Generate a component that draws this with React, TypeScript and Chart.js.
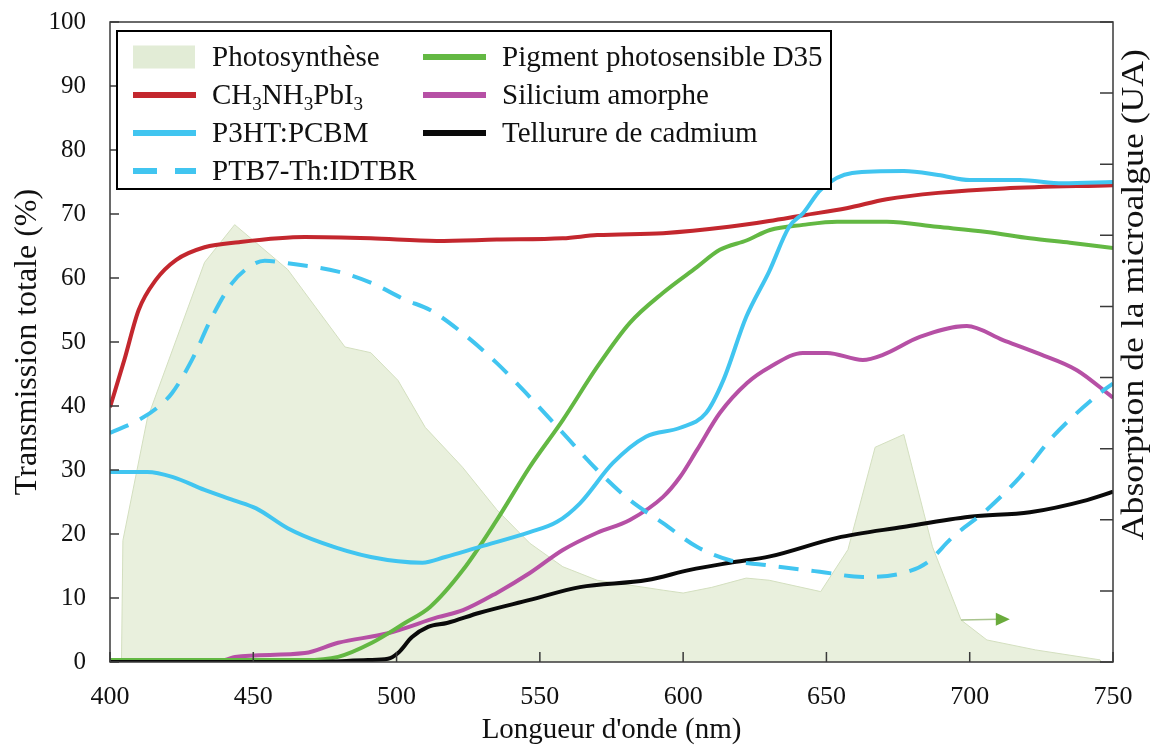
import React, { useEffect, useRef } from "react";
import { Chart, registerables } from "chart.js";

Chart.register(...registerables);

const FONT = "'Liberation Serif', 'Times New Roman', serif";

// ---------- data ----------
const wavelengthTicks = [400, 450, 500, 550, 600, 650, 700, 750];
const transmissionTicks = [0, 10, 20, 30, 40, 50, 60, 70, 80, 90, 100];
const absorptionTicks = [0, 1, 2, 3, 4, 5, 6, 7, 8, 9];

const xTitle = "Longueur d'onde (nm)";
const yTitle = "Transmission totale (%)";
const y2Title = "Absorption de la microalgue (UA)";

// microalgae absorption (arbitrary units, right axis)
const photosynthese: [number, number][] = [
  [404, 0], [404.5, 1.71], [413, 3.42], [433, 5.62], [443.5, 6.15], [462, 5.52],
  [482, 4.43], [491, 4.35], [500.5, 3.96], [510, 3.3], [523, 2.74], [535, 2.14],
  [546.5, 1.67], [558, 1.34], [570, 1.15], [593, 1.01], [600, 0.97], [610, 1.05],
  [622, 1.18], [630, 1.15], [648, 0.99], [657.5, 1.58], [667, 3.02], [677, 3.2],
  [687, 1.62], [697, 0.59], [706, 0.31], [723, 0.17], [745.5, 0.03], [746, 0],
];

const perovskite: [number, number][] = [
  [400, 39.8], [405, 47.2], [410, 55], [416, 59.7], [423, 62.8], [433, 64.8],
  [445, 65.6], [468, 66.4], [491, 66.2], [514, 65.8], [535, 66], [558, 66.2],
  [570, 66.7], [593, 67], [616, 68], [630, 68.9], [642, 69.8], [657, 70.9],
  [671, 72.3], [689, 73.3], [712, 74], [750, 74.5],
];

const p3ht: [number, number][] = [
  [400, 29.7], [413, 29.7], [422, 28.9], [433, 26.9], [443, 25.3], [451, 24],
  [462, 20.9], [474, 18.6], [491, 16.4], [509, 15.5], [517, 16.4], [529, 18],
  [546.5, 20.3], [556, 21.9], [564, 24.8], [575.5, 31.1], [587, 35.2], [599, 36.6],
  [608, 38.9], [614, 44], [622, 53.9], [630, 61], [637, 68], [642, 70.2],
  [648, 73.8], [659, 76.4], [677, 76.7], [689, 76.1], [700, 75.3], [717.5, 75.3],
  [732.5, 74.8], [750, 75],
];

const ptb7: [number, number][] = [
  [400, 35.8], [410, 37.8], [416.7, 39.8], [421.6, 42], [428.6, 47.2], [435.6, 53.9],
  [442.6, 59.2], [449.5, 62], [454, 62.7], [462, 62.3], [479.6, 61], [491.4, 59.2],
  [503, 56.6], [511.7, 55], [523, 51.4], [535, 46.7], [546.5, 41.4], [558, 35.8],
  [570, 30], [581.4, 25.3], [593, 21.7], [604.8, 18], [616.3, 15.9], [627.8, 15.2],
  [647.7, 14.1], [662.7, 13.3], [676.7, 13.9], [685, 15.5], [694, 19.5], [706, 23.8],
  [717.5, 28.9], [729, 35.2], [745.4, 42], [750, 43.5],
];

const d35: [number, number][] = [
  [400, 0.3], [468, 0.3], [479.6, 0.8], [491.4, 3], [502.9, 6.1], [511.7, 8.6],
  [523.2, 14.4], [535, 22.2], [546.5, 30.5], [558, 37.8], [570, 46.1], [581.4, 53],
  [593, 57.7], [604.8, 61.7], [612.8, 64.4], [622.3, 65.9], [630.3, 67.5], [641.8, 68.3],
  [653.7, 68.8], [671.1, 68.8], [688.6, 68], [706, 67.2], [721, 66.2], [735, 65.5],
  [750, 64.7],
];

const siliciumAmorphe: [number, number][] = [
  [400, 0.3], [440, 0.3], [443.6, 0.8], [468, 1.4], [479.6, 3], [497, 4.5],
  [514.4, 7], [523.2, 8.1], [535, 10.8], [546.5, 13.9], [558, 17.5], [570, 20.2],
  [581.4, 22.2], [593, 25.8], [598.9, 28.9], [604.8, 33.1], [612.8, 38.9], [622.3, 43.6],
  [630.3, 46.1], [641.8, 48.3], [650.2, 48.3], [662.7, 47.2], [669.7, 48], [682.6, 50.8],
  [699, 52.5], [711.6, 50.3], [723.4, 48.3], [737.4, 45.6], [750, 41.3],
];

const tellurureCadmium: [number, number][] = [
  [400, 0], [470, 0], [490, 0.3], [497, 0.5], [500.5, 1.4], [505.4, 3.9], [511, 5.5],
  [517.6, 6.1], [529, 7.7], [546.5, 9.7], [564, 11.7], [587.4, 12.8], [602.4, 14.4],
  [616.3, 15.5], [630.3, 16.5], [653.7, 19.4], [676.7, 21.1], [700, 22.7], [721, 23.4],
  [740.9, 25.3], [750, 26.6],
];

// arrow pointing to the right axis (x in nm, y in UA)
const arrowFrom: [number, number] = [697, 0.59];
const arrowTo: [number, number] = [714, 0.6];

// legend arrangement (dataset indices per column)
const legendColumns = [[0, 1, 2, 3], [4, 5, 6]];

// ---------- helpers ----------
const toXY = (pts: [number, number][]) => pts.map(([x, y]) => ({ x, y }));
const SUBS = "₀₁₂₃₄₅₆₇₈₉";

function drawRichText(ctx: CanvasRenderingContext2D, text: string, x: number, y: number, size: number) {
  const runs: { sub: boolean; s: string }[] = [];
  for (const ch of text) {
    const i = SUBS.indexOf(ch);
    const sub = i >= 0;
    const c = sub ? String(i) : ch;
    const last = runs[runs.length - 1];
    if (last && last.sub === sub) last.s += c;
    else runs.push({ sub, s: c });
  }
  let cx = x;
  for (const r of runs) {
    const fs = r.sub ? size * 0.66 : size;
    ctx.font = `${fs}px ${FONT}`;
    ctx.fillText(r.s, cx, r.sub ? y + size * 0.2 : y);
    cx += ctx.measureText(r.s).width;
  }
}

const framePlugin = {
  id: "frameTicks",
  afterDatasetsDraw(chart: any) {
    const { ctx, chartArea, scales } = chart;
    const { left, right, top, bottom } = chartArea;
    ctx.save();
    // arrow
    const ax1 = scales.x.getPixelForValue(arrowFrom[0]);
    const ay1 = scales.y2.getPixelForValue(arrowFrom[1]);
    const ax2 = scales.x.getPixelForValue(arrowTo[0]);
    const ay2 = scales.y2.getPixelForValue(arrowTo[1]);
    ctx.strokeStyle = "#a9c48e";
    ctx.lineWidth = 1.5;
    ctx.beginPath();
    ctx.moveTo(ax1, ay1);
    ctx.lineTo(ax2 - 12, ay2);
    ctx.stroke();
    ctx.fillStyle = "#6aab3c";
    ctx.beginPath();
    ctx.moveTo(ax2, ay2);
    ctx.lineTo(ax2 - 14, ay2 - 6.5);
    ctx.lineTo(ax2 - 14, ay2 + 6.5);
    ctx.closePath();
    ctx.fill();

    // frame
    ctx.strokeStyle = "#3a3a3a";
    ctx.lineWidth = 1.5;
    ctx.strokeRect(left, top, right - left, bottom - top);
    ctx.beginPath();
    for (const v of transmissionTicks) {
      const y = scales.y.getPixelForValue(v);
      ctx.moveTo(left, y);
      ctx.lineTo(left + 9, y);
    }
    for (const v of wavelengthTicks) {
      const x = scales.x.getPixelForValue(v);
      ctx.moveTo(x, bottom);
      ctx.lineTo(x, bottom - 10);
    }
    for (const v of absorptionTicks) {
      const y = scales.y2.getPixelForValue(v);
      ctx.moveTo(right, y);
      ctx.lineTo(right - 13, y);
    }
    ctx.stroke();
    ctx.restore();
  },
};

const legendPlugin = {
  id: "boxLegend",
  afterDraw(chart: any) {
    const { ctx, chartArea } = chart;
    const bx = chartArea.left + 7;
    const by = chartArea.top + 9;
    const bw = 714;
    const bh = 158;
    ctx.save();
    ctx.fillStyle = "#ffffff";
    ctx.fillRect(bx, by, bw, bh);
    ctx.strokeStyle = "#000";
    ctx.lineWidth = 2;
    ctx.strokeRect(bx, by, bw, bh);
    const colSwatchX = [bx + 16, bx + 306];
    const colTextX = [bx + 95, bx + 385];
    legendColumns.forEach((col, ci) => {
      col.forEach((di, ri) => {
        const ds = chart.data.datasets[di];
        const cy = by + 26 + ri * 38;
        const sx = colSwatchX[ci];
        if (ds.fill) {
          ctx.fillStyle = "#e2ecd6";
          ctx.fillRect(sx, cy - 11.5, 62, 23);
        } else {
          ctx.strokeStyle = ds.borderColor;
          ctx.lineWidth = 6;
          ctx.setLineDash(ds.borderDash && ds.borderDash.length ? [24, 18] : []);
          ctx.beginPath();
          ctx.moveTo(sx, cy);
          ctx.lineTo(sx + 63, cy);
          ctx.stroke();
          ctx.setLineDash([]);
        }
        ctx.fillStyle = "#111";
        ctx.textBaseline = "alphabetic";
        ctx.textAlign = "left";
        drawRichText(ctx, ds.label, colTextX[ci], cy + 9, 29);
      });
    });
    // right axis title, reading bottom to top
    const { right, top, bottom } = chartArea;
    ctx.translate(right + 22, top + 0.426 * (bottom - top));
    ctx.rotate(-Math.PI / 2);
    ctx.scale(1.15, 1);
    ctx.font = `31px ${FONT}`;
    ctx.textAlign = "center";
    ctx.textBaseline = "middle";
    ctx.fillStyle = "#111";
    ctx.fillText(y2Title, 0, 0);
    ctx.restore();
  },
};

export default function App() {
  const ref = useRef<HTMLCanvasElement>(null);

  useEffect(() => {
    if (!ref.current) return;
    const lineBase = {
      pointRadius: 0,
      borderWidth: 4,
      fill: false,
      cubicInterpolationMode: "monotone" as const,
      yAxisID: "y",
    };
    const chart = new Chart(ref.current, {
      type: "line",
      data: {
        datasets: [
          {
            label: "Photosynthèse",
            data: toXY(photosynthese),
            yAxisID: "y2",
            fill: "origin",
            backgroundColor: "#e9f0dd",
            borderColor: "#d3dfbf",
            borderWidth: 1,
            pointRadius: 0,
            tension: 0,
            order: 10,
          },
          { ...lineBase, label: "CH₃NH₃PbI₃", data: toXY(perovskite), borderColor: "#c3272e", order: 2 },
          { ...lineBase, label: "P3HT:PCBM", data: toXY(p3ht), borderColor: "#41c5f0", order: 1 },
          {
            ...lineBase,
            label: "PTB7-Th:IDTBR",
            data: toXY(ptb7),
            borderColor: "#41c5f0",
            borderDash: [20, 13],
            order: 3,
          },
          { ...lineBase, label: "Pigment photosensible D35", data: toXY(d35), borderColor: "#63b843", order: 5 },
          { ...lineBase, label: "Silicium amorphe", data: toXY(siliciumAmorphe), borderColor: "#b650a5", order: 6 },
          { ...lineBase, label: "Tellurure de cadmium", data: toXY(tellurureCadmium), borderColor: "#0a0a0a", order: 4 },
        ] as any,
      },
      options: {
        animation: false,
        responsive: true,
        maintainAspectRatio: false,
        layout: { padding: { top: 22, left: 0, right: 0, bottom: 0 } },
        plugins: { legend: { display: false }, tooltip: { enabled: false } },
        scales: {
          x: {
            type: "linear",
            min: 400,
            max: 750,
            afterFit: (s: any) => {
              s.height = 86;
              s.paddingLeft = 0;
              s.paddingRight = 0;
            },
            afterBuildTicks: (s: any) => {
              s.ticks = wavelengthTicks.map((v) => ({ value: v }));
            },
            grid: { display: false },
            border: { display: false },
            ticks: {
              autoSkip: false,
              maxRotation: 0,
              padding: 12,
              color: "#111",
              font: { family: FONT, size: 26 },
            },
            title: {
              display: true,
              text: xTitle,
              color: "#111",
              font: { family: FONT, size: 29 },
              padding: 0,
            },
          },
          y: {
            position: "left",
            min: 0,
            max: 100,
            afterFit: (s: any) => {
              s.width = 110;
              s.paddingTop = 0;
              s.paddingBottom = 0;
            },
            afterBuildTicks: (s: any) => {
              s.ticks = transmissionTicks.map((v) => ({ value: v }));
            },
            grid: { display: false },
            border: { display: false },
            ticks: {
              padding: 16,
              color: "#111",
              font: { family: FONT, size: 25 },
            },
            title: {
              display: true,
              text: yTitle,
              color: "#111",
              font: { family: FONT, size: 32 },
              padding: { top: 8, bottom: 0 },
            },
          },
          y2: {
            position: "right",
            min: 0,
            max: 9,
            afterFit: (s: any) => {
              s.width = 38;
              s.paddingTop = 0;
              s.paddingBottom = 0;
            },
            grid: { display: false },
            border: { display: false },
            ticks: { display: false },
          },
        },
      } as any,
      plugins: [framePlugin, legendPlugin],
    });
    return () => chart.destroy();
  }, []);

  return (
    <div style={{ position: "fixed", left: 0, top: 0, width: 1151, height: 748, background: "#fff" }}>
      <canvas ref={ref} />
    </div>
  );
}
